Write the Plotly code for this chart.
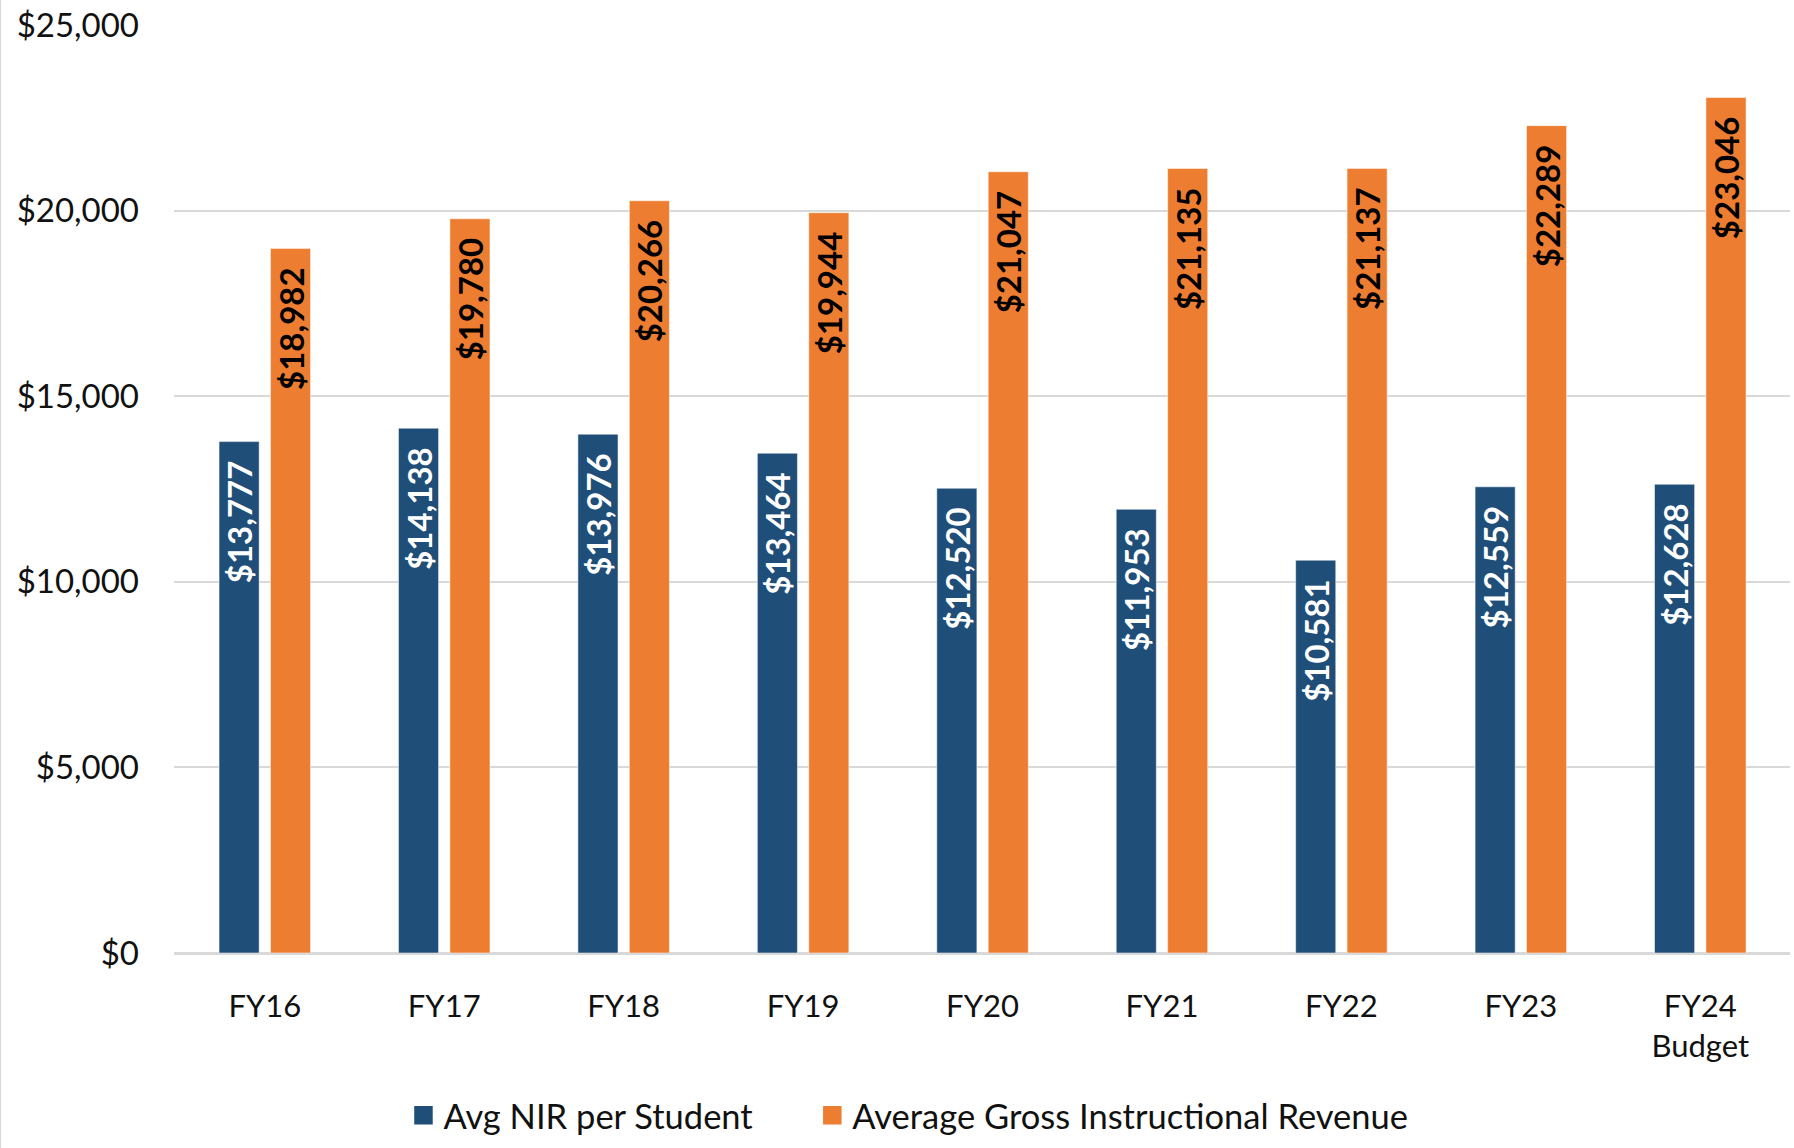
import plotly.graph_objects as go

categories = ["FY16", "FY17", "FY18", "FY19", "FY20", "FY21", "FY22", "FY23", "FY24<br>Budget"]
avg_nir = [13777, 14138, 13976, 13464, 12520, 11953, 10581, 12559, 12628]
avg_gross = [18982, 19780, 20266, 19944, 21047, 21135, 21137, 22289, 23046]
y_ticks = [0, 5000, 10000, 15000, 20000, 25000]
y_tick_labels = ["$0", "$5,000", "$10,000", "$15,000", "$20,000", "$25,000"]
series_names = ["Avg NIR per Student", "Average Gross Instructional Revenue"]

BLUE = "#1F4E79"
ORANGE = "#ED7D31"
FONT = "Lato"
PAD = "\u00a0\u00a0"

fig = go.Figure()
fig.add_trace(go.Bar(
    x=categories, y=avg_nir, name=series_names[0], showlegend=False,
    marker=dict(color=BLUE, line=dict(color="rgba(255,255,255,0.5)", width=1)),
    texttemplate="$%{y:,}" + PAD, textposition="inside", insidetextanchor="end",
    textangle=-90, constraintext="none",
    insidetextfont=dict(family=FONT, size=33, color="white", weight="bold"),
))
fig.add_trace(go.Bar(
    x=categories, y=avg_gross, name=series_names[1], showlegend=False,
    marker=dict(color=ORANGE, line=dict(color="rgba(255,255,255,0.5)", width=1)),
    texttemplate="$%{y:,}" + PAD, textposition="inside", insidetextanchor="end",
    textangle=-90, constraintext="none",
    insidetextfont=dict(family=FONT, size=33, color="black", weight="bold"),
))
# legend entries (square swatches)
for name, color, lg in [(series_names[0], BLUE, "legend"), (series_names[1], ORANGE, "legend2")]:
    fig.add_trace(go.Scatter(
        x=[categories[0]], y=[None], mode="markers", name=name, legend=lg,
        marker=dict(symbol="square", size=16, color=color, line=dict(color=color, width=2.5)),
        showlegend=True, hoverinfo="skip",
    ))

legend_common = dict(orientation="h", y=-0.175, yanchor="middle",
                     font=dict(family=FONT, size=34.5, color="#111111"),
                     bgcolor="rgba(0,0,0,0)")

fig.update_layout(
    width=1794, height=1148,
    margin=dict(l=174, r=4, t=25, b=188),
    paper_bgcolor="white", plot_bgcolor="white",
    barmode="group", bargap=0.427, bargroupgap=0.22,
    font=dict(family=FONT, size=30, color="#111111"),
    showlegend=True,
    legend=dict(x=0.142, xanchor="left", **legend_common),
    legend2=dict(x=0.395, xanchor="left", **legend_common),
    shapes=[dict(type="line", xref="paper", yref="paper", x0=-0.1074, x1=-0.1074,
                 y0=-0.3, y1=1.1, line=dict(color="#D9D9D9", width=1.5))],
)
fig.update_xaxes(showgrid=False, showline=False, ticks="", tickfont=dict(size=31),
                 ticklabelstandoff=32)
fig.update_yaxes(range=[0, 25000], tickvals=y_ticks, ticktext=y_tick_labels,
                 showgrid=True, gridcolor="#D9D9D9", gridwidth=2,
                 zeroline=True, zerolinecolor="#D9D9D9", zerolinewidth=2.5,
                 showline=False, ticks="", tickfont=dict(size=33), ticklabelstandoff=34)

fig.write_html("out.html")
